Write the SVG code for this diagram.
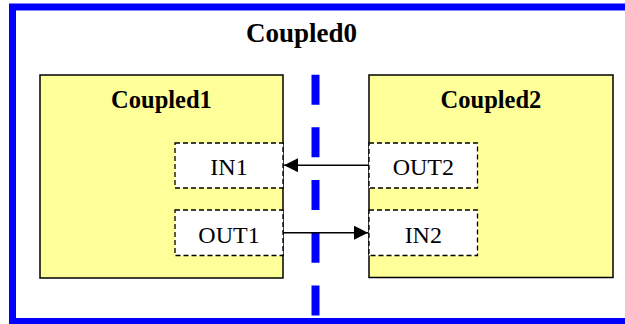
<svg xmlns="http://www.w3.org/2000/svg" width="625" height="324" viewBox="0 0 625 324">
<defs>
<style>
.frame{fill:none;stroke:#0000FF;stroke-width:7}
.coupled{fill:#FFFF99;stroke:#000;stroke-width:1.5}
.port{fill:#FFFFFF;stroke:#000;stroke-width:1.3;stroke-dasharray:5 3}
.title{font-family:"Liberation Serif","Times New Roman",serif;font-weight:bold;text-anchor:middle;fill:#000}
.plabel{font-family:"Liberation Serif","Times New Roman",serif;font-size:24px;text-anchor:middle;fill:#000}
.conn{stroke:#000;stroke-width:1.6;fill:none}
.divider{stroke:#0000FF;stroke-width:8;stroke-dasharray:30 22.67;fill:none}
</style>
<marker id="arrow" markerUnits="userSpaceOnUse" markerWidth="15" markerHeight="14" refX="14" refY="7" orient="auto">
<path d="M0,0 L14,7 L0,14 Z" fill="#000"/>
</marker>
</defs>
<rect width="625" height="324" fill="#FFFFFF"/>
<g id="Coupled0">
<rect class="frame" x="12.5" y="7" width="620" height="314.5"/>
<text class="title" x="301.5" y="42" font-size="27">Coupled0</text>
</g>
<line class="divider" x1="315.5" y1="74.7" x2="315.5" y2="316"/>
<g id="Coupled1">
<rect class="coupled" x="40" y="75" width="243" height="203"/>
<text class="title" x="161.5" y="108" font-size="24.5">Coupled1</text>
</g>
<g id="Coupled2">
<rect class="coupled" x="369" y="75" width="244" height="202.5"/>
<text class="title" x="491" y="108" font-size="24.5">Coupled2</text>
</g>
<g id="IN1">
<rect class="port" x="175" y="143" width="108" height="45"/>
<text class="plabel" x="229" y="175">IN1</text>
</g>
<g id="OUT1">
<rect class="port" x="175" y="210" width="108" height="45.5"/>
<text class="plabel" x="229" y="242.7">OUT1</text>
</g>
<g id="OUT2">
<rect class="port" x="369" y="143" width="108.5" height="45"/>
<text class="plabel" x="423.3" y="175">OUT2</text>
</g>
<g id="IN2">
<rect class="port" x="369" y="210" width="108.5" height="45.5"/>
<text class="plabel" x="423.3" y="242.7">IN2</text>
</g>
<g id="connectors">
<line class="conn" x1="369" y1="165.2" x2="284" y2="165.2" marker-end="url(#arrow)"/>
<line class="conn" x1="283" y1="232.7" x2="368" y2="232.7" marker-end="url(#arrow)"/>
</g>
</svg>
